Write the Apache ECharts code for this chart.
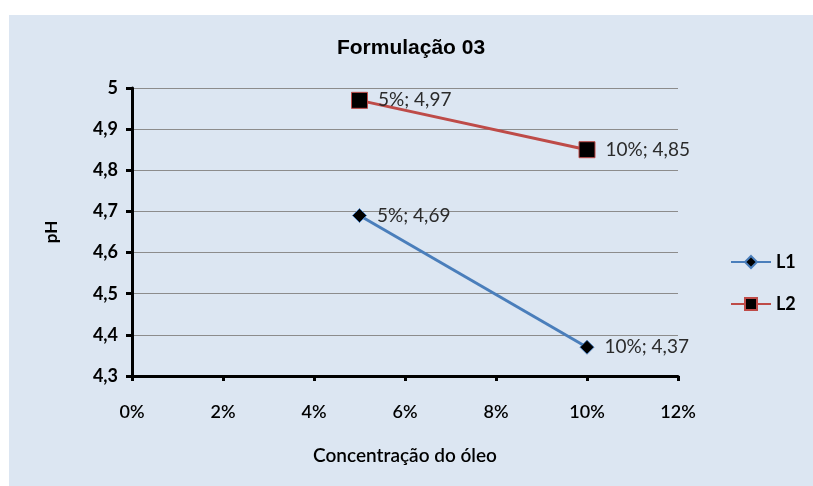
<!DOCTYPE html>
<html>
<head>
<meta charset="utf-8">
<script src="https://cdn.jsdelivr.net/npm/echarts@6/dist/echarts.min.js"></script>
<style>
  html, body { margin: 0; padding: 0; background: #ffffff; width: 813px; height: 486px; overflow: hidden; }
  #chart { position: absolute; left: 9px; top: 15px; width: 804px; height: 471px; }
</style>
</head>
<body>
<div id="chart"></div>
<script>
var dom = document.getElementById('chart');
var myChart = echarts.init(dom, null, { renderer: 'canvas' });

// concentration (%) and pH readings
const concL1 = [5, 10];
const phL1 = [4.69, 4.37];
const concL2 = [5, 10];
const phL2 = [4.97, 4.85];
const seriesNames = ['L1', 'L2'];

const bodyFont = 'Lato, "Open Sans", sans-serif';

function comma(v) {
  return String(Math.round(v * 100) / 100).replace('.', ',');
}
function pairs(xs, ys) {
  return xs.map(function (x, i) { return [x, ys[i]]; });
}
const pointLabel = {
  show: true,
  position: 'right',
  distance: 10,
  color: '#2b2b2b',
  fontFamily: bodyFont,
  fontSize: 19,
  formatter: function (p) { return p.value[0] + '%; ' + comma(p.value[1]); }
};

var option = {
  backgroundColor: '#dce6f2',
  animation: false,
  title: {
    text: 'Formulação 03',
    left: 'center',
    top: 18,
    textStyle: {
      fontFamily: '"Liberation Sans", Arial, sans-serif',
      fontWeight: 'bold',
      fontSize: 21,
      color: '#000'
    }
  },
  legend: {
    orient: 'vertical',
    left: 716,
    top: 233,
    itemWidth: 40,
    itemHeight: 15,
    itemGap: 24,
    data: seriesNames,
    textStyle: { fontFamily: bodyFont, fontWeight: 'bold', fontSize: 18, color: '#000' }
  },
  grid: { left: 123, right: 135, top: 73, bottom: 110 },
  xAxis: {
    type: 'value',
    min: 0,
    max: 12,
    interval: 2,
    name: 'Concentração do óleo',
    nameLocation: 'middle',
    nameGap: 70,
    nameTextStyle: { fontFamily: bodyFont, fontSize: 19, fontWeight: 600, color: '#000' },
    axisLine: { lineStyle: { color: '#000', width: 3 } },
    axisTick: { show: true, length: 5, lineStyle: { color: '#000', width: 3 } },
    axisLabel: {
      margin: 27,
      fontFamily: bodyFont, fontSize: 18, fontWeight: 600, color: '#000',
      formatter: '{value}%'
    },
    splitLine: { show: false }
  },
  yAxis: {
    type: 'value',
    min: 4.3,
    max: 5,
    interval: 0.1,
    name: 'pH',
    nameLocation: 'middle',
    nameGap: 72,
    nameRotate: 90,
    nameTextStyle: { fontFamily: bodyFont, fontSize: 17, fontWeight: 'bold', color: '#000' },
    axisLine: { show: true, lineStyle: { color: '#000', width: 3 } },
    axisTick: { show: true, length: 6, lineStyle: { color: '#000', width: 3 } },
    axisLabel: {
      margin: 14,
      fontFamily: bodyFont, fontSize: 18, fontWeight: 'bold', color: '#000',
      formatter: function (v) { return comma(v); }
    },
    splitLine: { lineStyle: { color: '#8c8c8c', width: 1 } }
  },
  series: [
    {
      name: seriesNames[0],
      type: 'line',
      data: pairs(concL1, phL1),
      symbol: 'diamond',
      symbolSize: 14,
      lineStyle: { color: '#4a7ebb', width: 3 },
      itemStyle: { color: '#000', borderColor: '#4a7ebb', borderWidth: 1 },
      label: pointLabel
    },
    {
      name: seriesNames[1],
      type: 'line',
      data: pairs(concL2, phL2),
      symbol: 'rect',
      symbolSize: 16,
      lineStyle: { color: '#be4b48', width: 3 },
      itemStyle: { color: '#000', borderColor: '#be4b48', borderWidth: 1 },
      label: pointLabel
    }
  ]
};

myChart.setOption(option);
window.addEventListener('resize', myChart.resize);
</script>
</body>
</html>
